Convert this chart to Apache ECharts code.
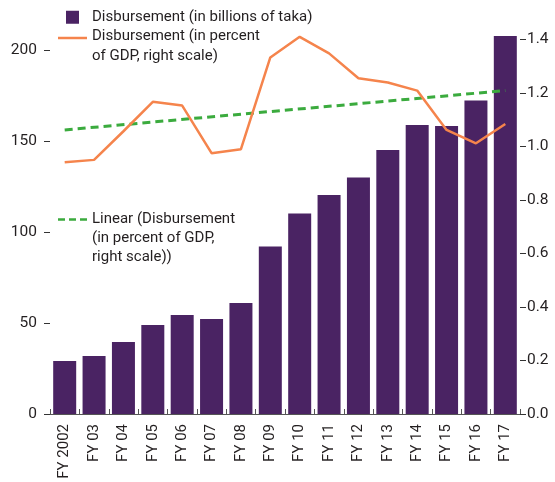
<!DOCTYPE html>
<html>
<head>
<meta charset="utf-8">
<script src="https://cdn.jsdelivr.net/npm/echarts@6/dist/echarts.min.js"></script>
<style>
  html, body { margin: 0; padding: 0; background: #fff; }
  #chart { width: 555px; height: 482px; }
</style>
</head>
<body>
<div id="chart"></div>
<script>
// Fiscal years on the category axis
const fiscalYears = ['FY 2002', 'FY 03', 'FY 04', 'FY 05', 'FY 06', 'FY 07', 'FY 08', 'FY 09',
  'FY 10', 'FY 11', 'FY 12', 'FY 13', 'FY 14', 'FY 15', 'FY 16', 'FY 17'];

// Disbursement, billions of taka (left scale)
const disbursementTaka = [29.1, 31.9, 39.6, 48.9, 54.4, 52.2, 61.0, 92.0,
  110.2, 120.4, 129.9, 145.1, 158.8, 158.2, 172.2, 207.7];

// Disbursement, percent of GDP (right scale)
const disbursementGdp = [0.941, 0.950, 1.057, 1.167, 1.153, 0.975, 0.990, 1.333,
  1.410, 1.348, 1.255, 1.239, 1.209, 1.062, 1.012, 1.084];

// Linear trend of the percent-of-GDP series: value at first and last year
const trendEnds = [1.062, 1.209];

// Tick labels
const leftTicks = [0, 50, 100, 150, 200];
const rightTicks = [0, 0.2, 0.4, 0.6, 0.8, 1.0, 1.2, 1.4];

const nameBars = 'Disbursement (in billions of taka)';
const nameLine = 'Disbursement (in percent\nof GDP, right scale)';
const nameTrend = 'Linear (Disbursement\n(in percent of GDP,\nright scale))';

const FONT = 'Roboto, "Liberation Sans", sans-serif';
const INK = '#231f20';
const PURPLE = '#4a2363';
const ORANGE = '#f5844c';
const GREEN = '#3bab3e';

// Legend keys for the multi-line entries: the stroke sits beside the first
// text line; the zero-length moves at the corners keep the icon box as tall
// as the whole text block.
const lineKey = 'path://M0,0L0,0M0,10.25L29,10.25L29,12.75L0,12.75ZM29,39L29,39';
const dashKey = 'path://M0,0L0,0M0,8.25L7,8.25L7,10.75L0,10.75Z' +
  'M11,8.25L18,8.25L18,10.75L11,10.75ZM22,8.25L29,8.25L29,10.75L22,10.75ZM29,57L29,57';

const chart = echarts.init(document.getElementById('chart'), null, { renderer: 'canvas' });

const legendText = (lineHeight, padLeft) => ({
  color: INK, fontFamily: FONT, fontSize: 15, lineHeight: lineHeight,
  padding: [0, 0, 0, padLeft]
});

chart.setOption({
  animation: false,
  backgroundColor: '#fff',
  textStyle: { fontFamily: FONT, color: INK },
  grid: { left: 50, right: 35, top: 30, bottom: 68, containLabel: false },
  legend: [
    {
      data: [{ name: nameBars, icon: 'rect' }],
      left: 66, top: 7.5, padding: 0,
      itemWidth: 13, itemHeight: 13, selectedMode: false,
      itemStyle: { borderWidth: 0 },
      textStyle: legendText(19.5, 8)
    },
    {
      data: [{ name: nameLine, icon: lineKey }],
      left: 58, top: 26.5, padding: 0,
      itemWidth: 29, itemHeight: 39, selectedMode: false,
      itemStyle: { borderWidth: 0 },
      textStyle: legendText(19.5, 0)
    },
    {
      data: [{ name: nameTrend, icon: dashKey }],
      left: 58, top: 210, padding: 0,
      itemWidth: 29, itemHeight: 57, selectedMode: false,
      itemStyle: { borderWidth: 0 },
      textStyle: legendText(19, 0)
    }
  ],
  xAxis: {
    type: 'category',
    data: fiscalYears,
    boundaryGap: true,
    axisLine: { show: true, lineStyle: { color: '#555', width: 1 } },
    axisTick: { show: true, inside: true, length: 5, interval: 0, lineStyle: { color: '#555' } },
    axisLabel: {
      interval: 0, rotate: 90, margin: 10,
      fontSize: 15, color: INK, fontFamily: FONT
    },
    splitLine: { show: false }
  },
  yAxis: [
    {
      type: 'value', position: 'left',
      min: 0, max: 211,
      axisLine: { show: false },
      axisTick: { show: true, length: 6, customValues: leftTicks, lineStyle: { color: '#333' } },
      axisLabel: { customValues: leftTicks, margin: 13, fontSize: 15.5, color: INK, fontFamily: FONT },
      splitLine: { show: false }
    },
    {
      type: 'value', position: 'right',
      min: 0, max: 1.4355,
      axisLine: { show: false },
      axisTick: { show: true, length: 6, customValues: rightTicks, lineStyle: { color: '#333' } },
      axisLabel: {
        customValues: rightTicks, margin: 7, fontSize: 15.5, color: INK, fontFamily: FONT,
        formatter: v => v.toFixed(1)
      },
      splitLine: { show: false }
    }
  ],
  series: [
    {
      name: nameBars,
      type: 'bar',
      yAxisIndex: 0,
      data: disbursementTaka,
      barWidth: 23,
      itemStyle: { color: PURPLE },
      z: 1
    },
    {
      name: nameLine,
      type: 'line',
      yAxisIndex: 1,
      data: disbursementGdp,
      symbol: 'none',
      lineStyle: { color: ORANGE, width: 2.5 },
      itemStyle: { color: ORANGE },
      z: 3
    },
    {
      name: nameTrend,
      type: 'line',
      yAxisIndex: 1,
      data: [[0, trendEnds[0]], [fiscalYears.length - 1, trendEnds[1]]],
      symbol: 'none',
      lineStyle: { color: GREEN, width: 3, type: [8, 5] },
      itemStyle: { color: GREEN },
      z: 2
    }
  ]
});
</script>
</body>
</html>
